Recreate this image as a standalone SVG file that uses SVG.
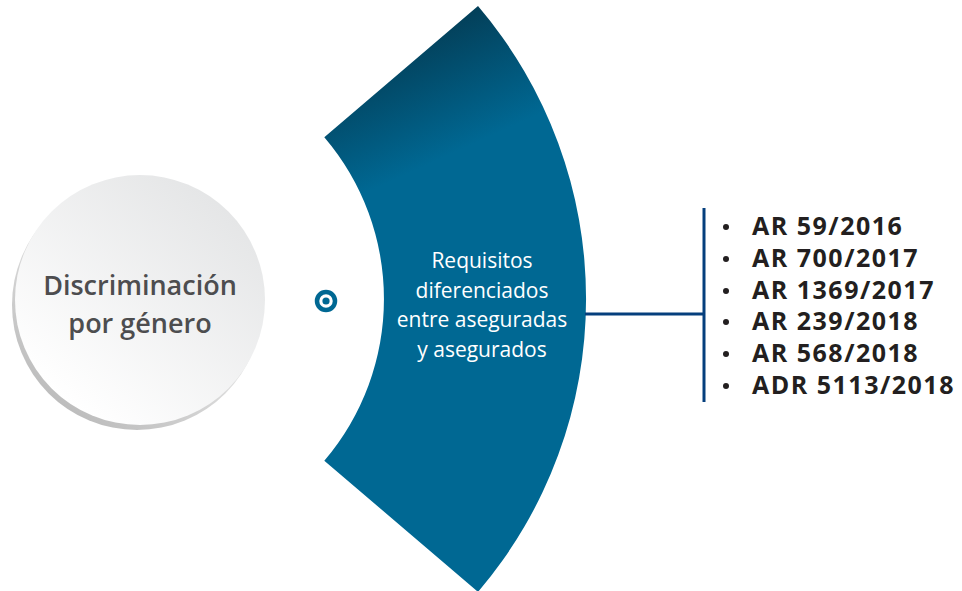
<svg xmlns="http://www.w3.org/2000/svg" width="962" height="591" viewBox="0 0 962 591">
<defs>
<linearGradient id="face" x1="0.85" y1="0.1" x2="0.2" y2="0.9">
<stop offset="0" stop-color="#e4e5e6"/>
<stop offset="1" stop-color="#ffffff"/>
</linearGradient>
<linearGradient id="rim" x1="0.2" y1="0.9" x2="0.8" y2="0.1">
<stop offset="0" stop-color="#bdbdbd"/>
<stop offset="0.6" stop-color="#e6e6e6"/>
<stop offset="1" stop-color="#ffffff"/>
</linearGradient>
<linearGradient id="blue" gradientUnits="userSpaceOnUse" x1="410" y1="40" x2="460" y2="150">
<stop offset="0" stop-color="#03405a"/>
<stop offset="1" stop-color="#006893"/>
</linearGradient>
<style>
.title{font-family:"Open Sans","Liberation Sans",sans-serif;font-weight:600;font-size:27px;fill:#4d4d4f;text-anchor:middle}
.mid{font-family:"Open Sans","Liberation Sans",sans-serif;font-size:21px;fill:#ffffff;text-anchor:middle}
.item{font-family:"Open Sans","Liberation Sans",sans-serif;font-weight:700;font-size:25px;letter-spacing:1.5px;fill:#231f20}
.conn{stroke:#053f7d;stroke-width:3;fill:none}
.dot{fill:#231f20}
</style>
</defs>
<g id="node-discriminacion">
<circle cx="137" cy="305" r="125" fill="url(#rim)"/>
<circle cx="140" cy="300" r="125" fill="url(#face)"/>
<text class="title" x="140" y="295">Discriminación</text>
<text class="title" x="140" y="333">por género</text>
</g>
<g id="node-target">
<circle cx="326" cy="301" r="9" fill="none" stroke="#006893" stroke-width="4.5"/>
<circle cx="326" cy="301" r="3.6" fill="#006893"/>
</g>
<g id="node-requisitos">
<path d="M324.3,137.3 L478,6.1 A451,451 0 0 1 478,591.9 L324.3,460.7 A249,249 0 0 0 324.3,137.3 Z" fill="url(#blue)"/>
<text class="mid" x="482" y="268">Requisitos</text>
<text class="mid" x="482" y="298">diferenciados</text>
<text class="mid" x="482" y="327">entre aseguradas</text>
<text class="mid" x="482" y="357">y asegurados</text>
</g>
<g id="connectors">
<line class="conn" x1="585" y1="314" x2="704" y2="314"/>
<line class="conn" x1="704" y1="208" x2="704" y2="402"/>
</g>
<g id="node-list">
<circle class="dot" cx="726" cy="227" r="3"/>
<circle class="dot" cx="726" cy="259" r="3"/>
<circle class="dot" cx="726" cy="291" r="3"/>
<circle class="dot" cx="726" cy="322" r="3"/>
<circle class="dot" cx="726" cy="354" r="3"/>
<circle class="dot" cx="726" cy="386" r="3"/>
<text class="item" x="752" y="235">AR 59/2016</text>
<text class="item" x="752" y="267">AR 700/2017</text>
<text class="item" x="752" y="299">AR 1369/2017</text>
<text class="item" x="752" y="330">AR 239/2018</text>
<text class="item" x="752" y="362">AR 568/2018</text>
<text class="item" x="752" y="394">ADR 5113/2018</text>
</g>
</svg>
